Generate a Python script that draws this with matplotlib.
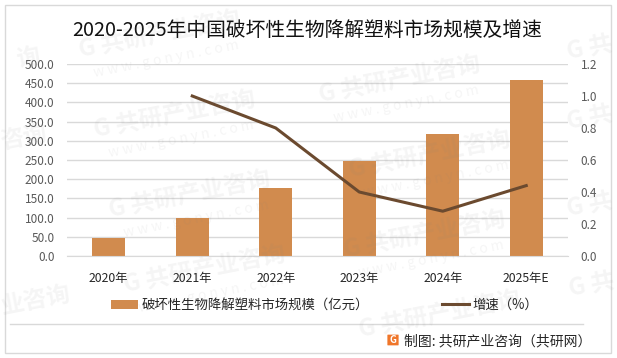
import numpy as np
import matplotlib
matplotlib.use('Agg')
import matplotlib.pyplot as plt
from matplotlib.patches import Rectangle, FancyBboxPatch

plt.rcParams['font.family'] = ['Noto Sans CJK SC', 'DejaVu Sans']

years = ['2020年', '2021年', '2022年', '2023年', '2024年', '2025年E']
scale = [48, 100, 178, 248, 318, 458]
growth = [np.nan, 1.0, 0.8, 0.4, 0.28, 0.44]

W, H = 617, 358

fig = plt.figure(figsize=(W / 100, H / 100), dpi=100)
ax = fig.add_axes([67 / W, 1 - 256 / H, 501 / W, 192 / H])

# 柱状图
bars = ax.bar(years, scale, width=0.4, color='#d18b4e', zorder=2, label='破坏性生物降解塑料市场规模（亿元）')
ax.set_xlim(-0.5, 5.5)
ax.set_ylim(0, 500)
ax.set_yticks(np.arange(0, 501, 50))
ax.set_yticklabels(['%.1f' % v for v in np.arange(0, 501, 50)])
ax.grid(axis='y', color='#d9d9d9', lw=1, zorder=0)
ax.set_axisbelow(True)
for s in ['top', 'left', 'right']:
    ax.spines[s].set_visible(False)
ax.spines['bottom'].set_color('#d9d9d9')
ax.tick_params(axis='y', length=0, labelsize=8.5, labelcolor='#595959', pad=9)
ax.tick_params(axis='x', length=0, labelsize=8.8, labelcolor='#262626', pad=11.5)

# 折线图
ax2 = ax.twinx()
line, = ax2.plot(years, growth, color='#6b4a2f', lw=2.2, zorder=3, label='增速（%）')
ax2.set_ylim(0, 1.2)
ax2.set_yticks(np.arange(0, 1.21, 0.2))
ax2.set_yticklabels(['%.1f' % v for v in np.arange(0, 1.21, 0.2)])
for s in ax2.spines.values():
    s.set_visible(False)
ax2.tick_params(axis='y', length=0, labelsize=8.5, labelcolor='#595959', pad=9)

fig.text(307 / W, 1 - 30 / H, '2020-2025年中国破坏性生物降解塑料市场规模及增速',
         fontsize=14.2, color='#111111', ha='center', va='center')

fig.legend(handles=[bars, line], loc='center', bbox_to_anchor=(324.5 / W, 1 - 305 / H), ncol=2,
           frameon=False, fontsize=9.65, handlelength=2.0, handletextpad=0.25, columnspacing=5.5,
           labelcolor='#262626')

# 外框和底部分隔线
fig.add_artist(Rectangle((5 / W, 1 - 353 / H), 606 / W, 348 / H, transform=fig.transFigure,
                         fill=False, ec='#d9d9d9', lw=1))
fig.add_artist(plt.Line2D([10 / W, 583 / W], [1 - 324 / H, 1 - 324 / H], color='#d9d9d9', lw=1))

# 制图来源
fig.add_artist(FancyBboxPatch((388 / W, 1 - 345 / H), 10 / W, 10 / H, transform=fig.transFigure,
                              boxstyle='round,pad=0.001', fc='#f0762a', ec='none'))
fig.text(393 / W, 1 - 340 / H, 'G', fontsize=7, fontweight='bold', color='white', ha='center', va='center')
fig.text(404 / W, 1 - 341 / H, '制图: 共研产业咨询（共研网）', fontsize=10, color='#262626', ha='left', va='center')

# 水印
marks = [(160, 35), (175, 115), (400, 80), (430, 155), (190, 195), (205, 270), (425, 235), (440, 315)]
for mx, my in marks:
    fig.text(mx / W, 1 - my / H, 'G 共研产业咨询', fontsize=17, fontweight='bold', color='#808080', alpha=0.08,
             rotation=11, ha='center', va='center', rotation_mode='anchor', zorder=5)
    if my < 300:
        fig.text((mx + 6) / W, 1 - (my + 24) / H, 'w w w . g o n y n . c o m', fontsize=10, color='#808080',
                 alpha=0.08, rotation=11, ha='center', va='center', rotation_mode='anchor', zorder=5)

# 边缘只露出一部分的水印
edge_left = [(28, 58, '询'), (24, 138, '咨询'), (36, 300, '业咨询')]
edge_right = [(590, 48, 'G 共'), (590, 118, 'G 共'), (590, 205, 'G 共'), (592, 285, 'G 共')]
for mx, my, s in edge_left + edge_right:
    fig.text(mx / W, 1 - my / H, s, fontsize=17, fontweight='bold', color='#808080', alpha=0.08,
             rotation=11, ha='center', va='center', rotation_mode='anchor', zorder=5)

fig.savefig('out.png', dpi=100)
